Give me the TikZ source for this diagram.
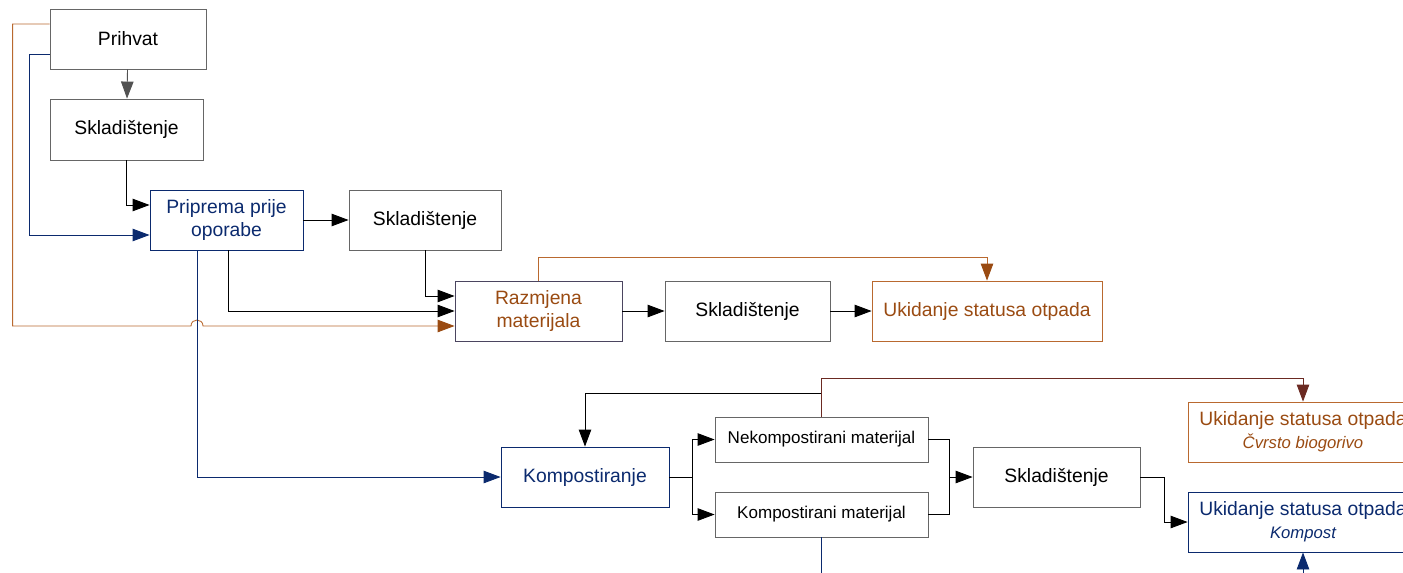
\documentclass[tikz,border=0pt]{standalone}
\usepackage{fontspec}
\setmainfont{Liberation Sans}
\usepackage{tikz}
\usetikzlibrary{arrows.meta,calc,positioning}
\definecolor{navy}{HTML}{0B2A6E}
\definecolor{rust}{HTML}{9A4B12}
\definecolor{rustline}{HTML}{B9692F}
\definecolor{maroon}{HTML}{6B2A22}
\definecolor{boxgray}{HTML}{666666}
\definecolor{plumgray}{HTML}{4B4560}
\tikzset{
  box/.style={draw=boxgray,line width=0.5pt,inner sep=0pt,align=center,
    minimum height=1.2cm,font=\fontsize{11}{13}\selectfont},
  smallbox/.style={box,minimum width=4.26cm,minimum height=0.9cm,
    font=\fontsize{9.7}{12}\selectfont},
  link/.style={line width=0.5pt,draw=#1,-{Triangle[length=0.34cm,width=0.25cm,color=#1]}},
  link/.default=black,
  plain/.style={line width=0.5pt,draw=#1},
  plain/.default=black
}
\begin{document}
\begin{tikzpicture}[x=0.02cm,y=-0.02cm]
\useasboundingbox (0,0) rectangle (1403,572);
\node[box,minimum width=3.12cm] (prihvat) at (128,39) {Prihvat};
\node[box,minimum width=3.06cm,minimum height=1.22cm] (skl1) at (126.5,129.5) {Skladištenje};
\node[box,draw=navy,text=navy,minimum width=3.06cm] (priprema) at (226.5,220) {Priprema prije\\oporabe};
\node[box,minimum width=3.04cm] (skl2) at (425,220) {Skladištenje};
\node[box,draw=plumgray,text=rust,minimum width=3.34cm] (razmjena) at (538.5,311) {Razmjena\\materijala};
\node[box,minimum width=3.3cm] (skl3) at (747.5,311) {Skladištenje};
\node[box,draw=rustline,text=rust,minimum width=4.6cm] (ukid1) at (987,311) {Ukidanje statusa otpada};
\node[box,draw=navy,text=navy,minimum width=3.36cm] (kompost) at (585,477) {Kompostiranje};
\node[smallbox] (nekomp) at (821.5,439.5) {Nekompostirani materijal};
\node[smallbox] (komp) at (821.5,514.5) {Kompostirani materijal};
\node[box,minimum width=3.34cm] (skl4) at (1056.5,477) {Skladištenje};
\node[box,draw=rustline,text=rust,minimum width=4.6cm] (ukid2) at (1303,432) {Ukidanje statusa otpada\\{\fontsize{9.5}{11}\selectfont\itshape Čvrsto biogorivo}};
\node[box,draw=navy,text=navy,minimum width=4.6cm] (ukid3) at (1303,522) {Ukidanje statusa otpada\\{\fontsize{9.5}{11}\selectfont\itshape Kompost}};
\coordinate (split) at ($(kompost.east)+(23,0)$);
\coordinate (join) at ($(skl4.west)+(-23,0)$);
\coordinate (below) at (1303,600);

\draw[link=boxgray!80!black] (prihvat) -- (skl1);
\draw[link=navy] ($(prihvat.west)+(0,15)$) -- ++(-20,0) |- ($(priprema.west)+(0,15)$);
\draw[link=rust,draw=rustline] ($(prihvat.west)+(0,-15)$) -- ++(-37,0) |- (191,326)
  .. controls (191,318) and (203,318) .. (203,326) -- ($(razmjena.west)+(0,15)$);
\draw[link] (skl1.south) |- ($(priprema.west)+(0,-15)$);
\draw[link] (priprema) -- (skl2);
\draw[link=navy] ($(priprema.south)+(-29.5,0)$) |- (kompost.west);
\draw[link] ($(priprema.south)+(1.5,0)$) |- (razmjena.west);
\draw[link] (skl2.south) |- ($(razmjena.west)+(0,-15)$);
\draw[link] (razmjena) -- (skl3);
\draw[link] (skl3) -- (ukid1);
\draw[link=rust,draw=rustline] (razmjena.north) -- ++(0,-23) -| (ukid1.north);
\draw[plain] (kompost.east) -- (split);
\draw[link] (split) |- (nekomp.west);
\draw[link] (split) |- (komp.west);
\draw[plain] (nekomp.east) -| (join);
\draw[plain] (komp.east) -| (join);
\draw[link] (join) -- (skl4.west);
\draw[link] (skl4.east) -- ++(24,0) |- (ukid3.west);
\draw[link] (nekomp.north) -- ++(0,-23) -| (kompost.north);
\draw[link=maroon] (nekomp.north) -- ++(0,-38) -| (ukid2.north);
\draw[plain=navy] (komp.south) -- ++(0,60);
\draw[link=navy] (below) -- (ukid3.south);
\end{tikzpicture}
\end{document}
